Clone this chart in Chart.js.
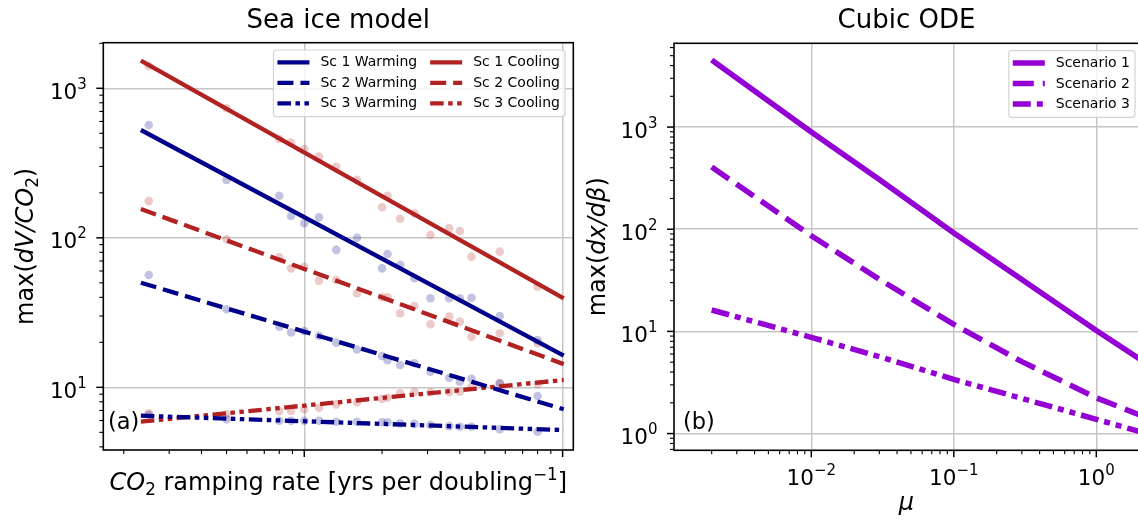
<!DOCTYPE html>
<html>
<head>
<meta charset="utf-8">
<script src="https://cdn.jsdelivr.net/npm/chart.js@4.4.1/dist/chart.umd.min.js"></script>
<style>
  html, body { margin: 0; padding: 0; background: #fff; overflow: hidden; }
  #wrap { position: relative; width: 1138px; height: 520px; overflow: hidden; }
  #seaice { position: absolute; left: 0; top: 0; }
  #cubic { position: absolute; left: 580px; top: 0; }
</style>
</head>
<body>
<div id="wrap">
  <canvas id="seaice" width="580" height="520"></canvas>
  <canvas id="cubic" width="562" height="520"></canvas>
</div>
<script>
// ---- panel (a): sea ice model, one dot per run ----
const rampRate = [0.00025, 0.0005, 0.0008, 0.000889, 0.001, 0.00114, 0.00133, 0.0016, 0.002, 0.0021,
                  0.00235, 0.00267, 0.00308, 0.00364, 0.004, 0.00444, 0.00571, 0.008];
const sc1Warm = [568, 244, 191, 140, 125, 137, 83, 100, 62.5, 78, 66, 53.6, 39.4, 39.4, 39.4, 39.7, 30, 20.7];
const sc2Warm = [56.4, 33.3, 25.4, 23.3, 23.8, 22.1, 19.9, 17.9, 16.2, 15.2, 14.1, 14.5, 12.7, 11.6, 10.9, 11.4, 10.6, 8.75];
const sc3Warm = [6.55, 6.11, 5.98, 5.98, 5.98, 5.98, 5.89, 5.89, 5.84, 5.84, 5.74, 5.7, 5.6, 5.5, 5.45, 5.45, 5.24, 5.05];
const sc1Cool = [1409, 735, 458, 433, 393, 349, 299, 244, 160, 191, 134, 146, 104.5, 116, 111, 74.8, 80.8, 47.1];
const sc2Cool = [176, 97.7, 74.1, 62.5, 64.1, 51.7, 52.2, 42.6, 40, 40, 31.3, 35, 26.4, 29.7, 27.5, 21.8, 23, 19.7];
const sc3Cool = [6.7, 6.6, 6.93, 6.95, 7.13, 7.31, 7.69, 7.94, 8.36, 8.52, 9.11, 9.35, 9.27, 9.27, 9.35, 10.1, 10.7, 10.5];

// power-law fits (end points of the straight lines)
const fitRate = [0.000233, 0.0101];
const fitSc1Warm = [526, 16.3];
const fitSc2Warm = [50.1, 7.13];
const fitSc3Warm = [6.46, 5.18];
const fitSc1Cool = [1530, 39.4];
const fitSc2Cool = [156, 14.3];
const fitSc3Cool = [5.89, 11.2];

// ---- panel (b): cubic ODE ----
const mu = [0.002, 0.01, 0.03, 0.1, 0.3, 1, 2];
const scen1 = [4540, 893, 306, 91.8, 32.2, 10.2, 5.4];
const scen2 = [407, 86.3, 32.4, 11.7, 5.06, 2.24, 1.53];
const scen3 = [16.2, 8.75, 5.66, 3.39, 2.21, 1.38, 1.05];

const BLUE = '#00008b', RED = '#b22222', PURPLE = '#9400d3';
const BLUE_DOT = 'rgba(0,0,139,0.24)', RED_DOT = 'rgba(178,34,34,0.24)';
const GRID = '#c6c6c6';
const FONT = '"DejaVu Sans", Verdana, sans-serif';

const pts = (xs, ys) => xs.map((x, i) => ({ x: x, y: ys[i] }));

function dots(ys, col) {
  return { data: pts(rampRate, ys), backgroundColor: col, borderWidth: 0,
           pointRadius: 4.3, pointHoverRadius: 4.3, showLine: false, order: 2 };
}
function line(label, xs, ys, col, w, dash) {
  return { label: label, data: pts(xs, ys), borderColor: col, backgroundColor: col,
           borderWidth: w, borderDash: dash, pointRadius: 0, showLine: true, order: 1 };
}

function logTicks(min, max) {
  const ticks = [];
  for (let e = Math.floor(Math.log10(min)); e <= Math.ceil(Math.log10(max)); e++) {
    for (let m = 1; m < 10; m++) {
      const v = m * Math.pow(10, e);
      if (v >= min && v <= max) ticks.push({ value: v, major: m === 1 });
    }
  }
  return ticks;
}

function logAxis(min, max, horizontal) {
  return {
    type: 'logarithmic', min: min, max: max,
    afterBuildTicks: s => { s.ticks = logTicks(min, max); },
    afterFit: s => { if (horizontal) s.height = 0; else s.width = 0; },
    ticks: { display: false },
    border: { display: false },
    grid: {
      drawTicks: false,
      color: c => (c.tick && c.tick.major) ? GRID : 'rgba(0,0,0,0)',
      lineWidth: c => (c.tick && c.tick.major) ? 1.5 : 0
    }
  };
}

// text with italic / sub / sup pieces, centred on (x, y) baseline
function drawRich(ctx, parts, x, y, size, rotate) {
  const fontOf = st => {
    const s = (st === 'sub' || st === 'sup') ? size * 0.7 : size;
    return (st === 'i' ? 'italic ' : '') + s + 'px ' + FONT;
  };
  ctx.save();
  ctx.translate(x, y);
  if (rotate) ctx.rotate(-Math.PI / 2);
  let w = 0;
  parts.forEach(([t, st]) => { ctx.font = fontOf(st); w += ctx.measureText(t).width; });
  let cx = -w / 2;
  ctx.textAlign = 'left';
  ctx.textBaseline = 'alphabetic';
  ctx.fillStyle = '#000';
  parts.forEach(([t, st]) => {
    ctx.font = fontOf(st);
    const dy = st === 'sub' ? size * 0.22 : (st === 'sup' ? -size * 0.42 : 0);
    ctx.fillText(t, cx, dy);
    cx += ctx.measureText(t).width;
  });
  ctx.restore();
}

function powerLabel(ctx, v, x, y, align) {
  const e = Math.round(Math.log10(v));
  const ex = e < 0 ? '\u2212' + (-e) : String(e);
  ctx.font = '21.5px ' + FONT;
  const w1 = ctx.measureText('10').width;
  ctx.font = '15px ' + FONT;
  const w2 = ctx.measureText(ex).width;
  let x0 = align === 'right' ? x - w1 - w2 : x - (w1 + w2) / 2;
  ctx.textAlign = 'left';
  ctx.textBaseline = 'alphabetic';
  ctx.fillStyle = '#000';
  ctx.font = '21.5px ' + FONT;
  ctx.fillText('10', x0, y);
  ctx.font = '15px ' + FONT;
  ctx.fillText(ex, x0 + w1, y - 10);
}

function drawLegend(ctx, items, ncol, right, top) {
  const sample = 32, gapTxt = 11, colGap = 13, padL = 4, padR = 5, rowH = 20.5;
  const nrow = Math.ceil(items.length / ncol);
  ctx.font = '14px ' + FONT;
  const colW = [];
  for (let c = 0; c < ncol; c++) {
    let m = 0;
    for (let r = 0; r < nrow; r++) {
      const it = items[c * nrow + r];
      if (it) m = Math.max(m, ctx.measureText(it.label).width);
    }
    colW.push(sample + gapTxt + m);
  }
  const boxW = padL + colW.reduce((a, b) => a + b, 0) + colGap * (ncol - 1) + padR;
  const boxH = 12.3 + rowH * (nrow - 1) + 13.4;
  const left = right - boxW;
  ctx.save();
  ctx.beginPath();
  ctx.roundRect(left, top, boxW, boxH, 3);
  ctx.fillStyle = 'rgba(255,255,255,0.8)';
  ctx.fill();
  ctx.lineWidth = 1.2;
  ctx.strokeStyle = '#d4d4d4';
  ctx.stroke();
  let cx = left + padL;
  for (let c = 0; c < ncol; c++) {
    for (let r = 0; r < nrow; r++) {
      const it = items[c * nrow + r];
      if (!it) continue;
      const y = top + 12.3 + r * rowH;
      ctx.beginPath();
      ctx.setLineDash(it.borderDash || []);
      ctx.lineWidth = it.borderWidth;
      ctx.strokeStyle = it.borderColor;
      ctx.moveTo(cx, y);
      ctx.lineTo(cx + sample, y);
      ctx.stroke();
      ctx.setLineDash([]);
      ctx.fillStyle = '#000';
      ctx.font = '14px ' + FONT;
      ctx.textAlign = 'left';
      ctx.textBaseline = 'middle';
      ctx.fillText(it.label, cx + sample + gapTxt, y + 0.5);
    }
    cx += colW[c] + colGap;
  }
  ctx.restore();
}

// matplotlib-like frame, ticks, labels, title and legend
const mplDecor = {
  id: 'mplDecor',
  afterDraw(chart, args, o) {
    const ctx = chart.ctx;
    const a = chart.chartArea;
    ctx.save();
    ['x', 'y'].forEach(id => {
      const s = chart.scales[id];
      s.ticks.forEach(t => {
        const p = s.getPixelForValue(t.value);
        const len = t.major ? 7 : 4;
        ctx.beginPath();
        ctx.lineWidth = t.major ? 1.5 : 1.1;
        ctx.strokeStyle = '#000';
        if (id === 'x') {
          ctx.moveTo(p, a.bottom); ctx.lineTo(p, a.bottom + len);
        } else {
          ctx.moveTo(a.left, p); ctx.lineTo(a.left - len, p);
        }
        ctx.stroke();
        if (t.major && id === 'y') powerLabel(ctx, t.value, a.left - 16.5, p + 10.5, 'right');
        if (t.major && id === 'x' && o.xLabels) powerLabel(ctx, t.value, p, a.bottom + 35, 'center');
      });
    });
    ctx.lineWidth = 1.6;
    ctx.strokeStyle = '#000';
    ctx.strokeRect(a.left, a.top, a.right - a.left, a.bottom - a.top);

    const mid = (a.left + a.right) / 2;
    ctx.fillStyle = '#000';
    ctx.font = '26px ' + FONT;
    ctx.textAlign = 'center';
    ctx.textBaseline = 'alphabetic';
    ctx.fillText(o.title, mid, 28);
    drawRich(ctx, o.xTitle, mid, o.xTitleY, 24, false);
    drawRich(ctx, o.yTitle, o.yTitleX, (a.top + a.bottom) / 2, 24, true);

    ctx.font = '22.5px ' + FONT;
    ctx.textAlign = 'left';
    ctx.fillText(o.panel, a.left + o.panelDx, 428.5);

    const items = chart.data.datasets.filter(d => d.label);
    drawLegend(ctx, items, o.ncol, a.right - o.legendPad, a.top + 7.3);
    ctx.restore();
  }
};

const common = {
  responsive: false,
  animation: false,
  events: [],
  plugins: { legend: { display: false }, tooltip: { enabled: false } }
};

new Chart('seaice', {
  type: 'scatter',
  data: {
    datasets: [
      dots(sc1Warm, BLUE_DOT), dots(sc2Warm, BLUE_DOT), dots(sc3Warm, BLUE_DOT),
      dots(sc1Cool, RED_DOT), dots(sc2Cool, RED_DOT), dots(sc3Cool, RED_DOT),
      line('Sc 1 Warming', fitRate, fitSc1Warm, BLUE, 4.3, []),
      line('Sc 2 Warming', fitRate, fitSc2Warm, BLUE, 4.3, [16, 7]),
      line('Sc 3 Warming', fitRate, fitSc3Warm, BLUE, 4.3, [13.5, 4.5, 4.5, 4.5, 4.5, 4.5]),
      line('Sc 1 Cooling', fitRate, fitSc1Cool, RED, 4.3, []),
      line('Sc 2 Cooling', fitRate, fitSc2Cool, RED, 4.3, [16, 7]),
      line('Sc 3 Cooling', fitRate, fitSc3Cool, RED, 4.3, [13.5, 4.5, 4.5, 4.5, 4.5, 4.5])
    ]
  },
  options: Object.assign({}, common, {
    layout: { padding: { left: 103.3, top: 42.7, right: 6.7, bottom: 70 } },
    scales: { x: logAxis(1.667e-4, 0.011, true), y: logAxis(3.81, 2018, false) },
    plugins: Object.assign({}, common.plugins, {
      mplDecor: {
        title: 'Sea ice model', xLabels: false, panel: '(a)', panelDx: 4.7, ncol: 2, legendPad: 8.3,
        xTitle: [['CO', 'i'], ['2', 'sub'], [' ramping rate [yrs per doubling', ''], ['\u22121', 'sup'], [']', '']],
        xTitleY: 490,
        yTitle: [['max(', ''], ['dV/CO', 'i'], ['2', 'sub'], [')', '']],
        yTitleX: 33
      }
    })
  }),
  plugins: [mplDecor]
});

new Chart('cubic', {
  type: 'scatter',
  data: {
    datasets: [
      line('Scenario 1', mu, scen1, PURPLE, 5.5, []),
      line('Scenario 2', mu, scen2, PURPLE, 5.5, [21, 9]),
      line('Scenario 3', mu, scen3, PURPLE, 5.5, [18, 6, 6, 6, 6, 6])
    ]
  },
  options: Object.assign({}, common, {
    layout: { padding: { left: 94, top: 43.3, right: 3, bottom: 69.7 } },
    scales: { x: logAxis(0.001088, 1.993, true), y: logAxis(0.686, 6607, false) },
    plugins: Object.assign({}, common.plugins, {
      mplDecor: {
        title: 'Cubic ODE', xLabels: true, panel: '(b)', panelDx: 9, ncol: 1, legendPad: 4,
        xTitle: [['\u03bc', 'i']], xTitleY: 510,
        yTitle: [['max(', ''], ['dx/d\u03b2', 'i'], [')', '']],
        yTitleX: 25
      }
    })
  }),
  plugins: [mplDecor]
});
</script>
</body>
</html>
